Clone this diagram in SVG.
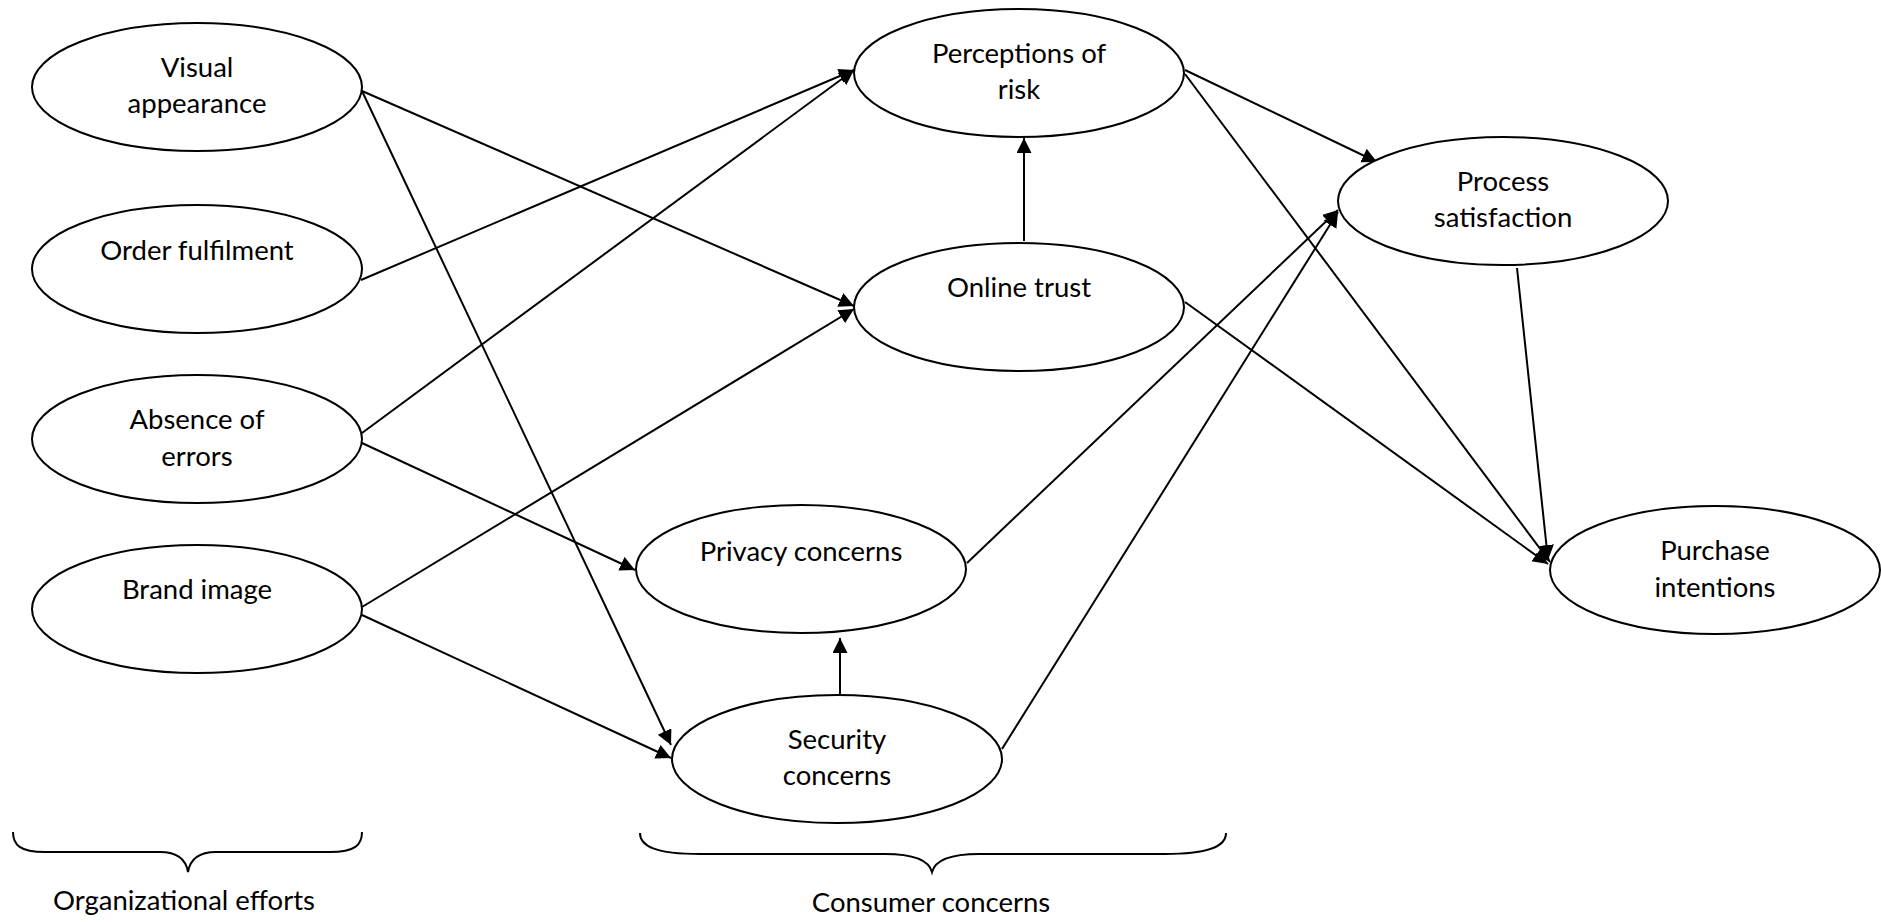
<svg xmlns="http://www.w3.org/2000/svg" width="1881" height="922" viewBox="0 0 1881 922">
<style>
.n{fill:#fff;stroke:#000;stroke-width:2}
.t{font-family:Lato,"Liberation Sans",sans-serif;font-size:27.5px;fill:#000;text-anchor:middle}
.c line{stroke:#000;stroke-width:2;marker-end:url(#ah)}
.b{fill:none;stroke:#000;stroke-width:2}
</style>
<defs>
<marker id="ah" markerUnits="userSpaceOnUse" markerWidth="16" markerHeight="16" refX="15" refY="7.5" orient="auto">
<path d="M0,0 L15,7.5 L0,15 z" fill="#000"/>
</marker>
</defs>
<rect width="1881" height="922" fill="#fff"/>
<g class="c" id="connectors">
<line x1="362" y1="91" x2="854" y2="306"/>
<line x1="362" y1="91" x2="671" y2="745"/>
<line x1="361" y1="280" x2="854" y2="70"/>
<line x1="362" y1="433" x2="854" y2="70"/>
<line x1="362" y1="443" x2="635" y2="570"/>
<line x1="362" y1="607" x2="854" y2="309"/>
<line x1="362" y1="615" x2="671" y2="758"/>
<line x1="1024" y1="241" x2="1024" y2="138"/>
<line x1="840" y1="700" x2="840" y2="638"/>
<line x1="1185" y1="70" x2="1377" y2="162"/>
<line x1="967" y1="563" x2="1338" y2="210"/>
<line x1="1002" y1="749" x2="1338" y2="212"/>
<line x1="1185" y1="74" x2="1550" y2="562"/>
<line x1="1185" y1="302" x2="1548" y2="564"/>
<line x1="1517" y1="268" x2="1548" y2="560"/>
</g>
<g id="visual"><ellipse class="n" cx="197" cy="87" rx="165" ry="64"/><text class="t" x="197" y="77">Visual</text><text class="t" x="197" y="113">appearance</text></g>
<g id="order"><ellipse class="n" cx="197" cy="269" rx="165" ry="64"/><text class="t" x="197" y="260">Order fulfilment</text></g>
<g id="absence"><ellipse class="n" cx="197" cy="439" rx="165" ry="64"/><text class="t" x="197" y="429">Absence of</text><text class="t" x="197" y="466">errors</text></g>
<g id="brand"><ellipse class="n" cx="197" cy="609" rx="165" ry="64"/><text class="t" x="197" y="599">Brand image</text></g>
<g id="risk"><ellipse class="n" cx="1019" cy="73" rx="165" ry="64"/><text class="t" x="1019" y="63">Perceptions of</text><text class="t" x="1019" y="99">risk</text></g>
<g id="trust"><ellipse class="n" cx="1019" cy="307" rx="165" ry="64"/><text class="t" x="1019" y="297">Online trust</text></g>
<g id="process"><ellipse class="n" cx="1503" cy="201" rx="165" ry="64"/><text class="t" x="1503" y="191">Process</text><text class="t" x="1503" y="227">satisfaction</text></g>
<g id="privacy"><ellipse class="n" cx="801" cy="569" rx="165" ry="64"/><text class="t" x="801" y="561">Privacy concerns</text></g>
<g id="security"><ellipse class="n" cx="837" cy="759" rx="165" ry="64"/><text class="t" x="837" y="749">Security</text><text class="t" x="837" y="785">concerns</text></g>
<g id="purchase"><ellipse class="n" cx="1715" cy="570" rx="165" ry="64"/><text class="t" x="1715" y="560">Purchase</text><text class="t" x="1715" y="597">intentions</text></g>
<g id="org-brace"><path class="b" d="M13,832 C13,845 20,852 45,852 L160,852 C178,852 186,860 188,872 C190,860 198,852 216,852 L330,852 C355,852 362,845 362,832"/><text class="t" x="184" y="910">Organizational efforts</text></g>
<g id="cons-brace"><path class="b" d="M640,833 C640,846 655,854 700,854 L885,854 C914,854 929,861 932,872 C935,861 950,854 979,854 L1165,854 C1210,854 1226,846 1226,833"/><text class="t" x="931" y="912">Consumer concerns</text></g>
</svg>
